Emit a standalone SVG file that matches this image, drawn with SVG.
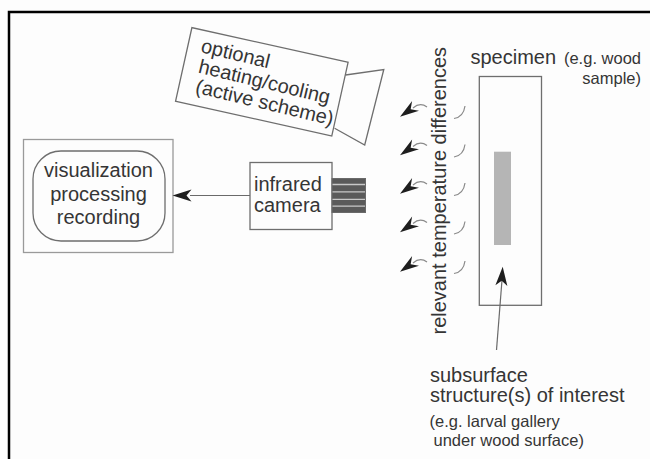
<svg xmlns="http://www.w3.org/2000/svg" width="650" height="459" viewBox="0 0 650 459">
  <style>
    .bg { fill: #fdfdfd; }
    .frame { fill: none; stroke: #000; stroke-width: 2.5; }
    .box { fill: none; stroke: #6e6e6e; stroke-width: 1.3; }
    .lbox { fill: none; stroke: #9a9a9a; stroke-width: 1.3; }
    .line { fill: none; stroke: #6a6a6a; stroke-width: 1.2; }
    .wave { fill: none; stroke: #8a8a8a; stroke-width: 1.2; }
    .head { fill: #1e1e1e; }
    text { font-family: "Liberation Sans", Arial, sans-serif; fill: #353535; }
    .t20 { font-size: 20px; }
    .t16 { font-size: 16.5px; }
  </style>
  <defs>
    <!-- dart-shaped arrowhead, tip at origin pointing along +x -->
    <path id="dart" d="M0,0 L-19,-6 L-14,0 L-19,6 Z"/>
    <path id="smalldart" d="M0,0 L-19,-6 L-13,0 L-19,6 Z"/>
  </defs>

  <rect class="bg" x="0" y="0" width="650" height="459"/>
  <path class="frame" d="M9,459 V12 H650"/>

  <!-- output unit -->
  <g id="display">
    <rect class="lbox" x="23.5" y="139.5" width="149.5" height="113"/>
    <rect class="box" x="33" y="151" width="132" height="90" rx="28" ry="28"/>
    <text class="t20" x="98.5" y="176.5" text-anchor="middle">visualization</text>
    <text class="t20" x="98.5" y="200.5" text-anchor="middle">processing</text>
    <text class="t20" x="98.5" y="223.5" text-anchor="middle">recording</text>
  </g>

  <!-- infrared camera with lens -->
  <g id="camera">
    <rect class="box" x="250" y="162.5" width="82" height="67"/>
    <rect x="332" y="178.5" width="33.5" height="34" fill="#5a5a5a" stroke="#6a6a6a" stroke-width="1"/>
    <g stroke="#c8c8c8" stroke-width="1.3">
      <line x1="332.5" y1="184.5" x2="365" y2="184.5"/>
      <line x1="332.5" y1="191.8" x2="365" y2="191.8"/>
      <line x1="332.5" y1="199.3" x2="365" y2="199.3"/>
      <line x1="332.5" y1="206.2" x2="365" y2="206.2"/>
    </g>
    <text class="t20" x="254" y="191">infrared</text>
    <text class="t20" x="254" y="211.5">camera</text>
  </g>

  <!-- heating / cooling source -->
  <g id="heater">
    <g transform="translate(191.9,27.6) rotate(12.5)">
      <rect class="box" x="0" y="0" width="160" height="75.5"/>
    </g>
    <path class="box" d="M345.5,75 L383.8,69.5 L364.7,145 L334.6,128.3"/>
    <text class="t20" transform="translate(200,52) rotate(13.5)">optional</text>
    <text class="t20" transform="translate(197.5,72.5) rotate(13.5)">heating/cooling</text>
    <text class="t20" transform="translate(194.5,92.5) rotate(13.5)">(active scheme)</text>
  </g>

  <!-- specimen with subsurface structure -->
  <g id="specimen">
    <rect class="box" x="479.3" y="76.5" width="62.2" height="228.8"/>
    <rect x="494" y="151.7" width="17" height="93.3" fill="#b5b5b5"/>
    <text class="t20" x="470.5" y="63.5">specimen</text>
    <text class="t16" x="641" y="63.5" text-anchor="end">(e.g. wood</text>
    <text class="t16" x="641" y="83.5" text-anchor="end">sample)</text>
  </g>

  <g id="emission-label">
    <text class="t20" transform="translate(445.5,334.5) rotate(-90)">relevant temperature differences</text>
  </g>

  <g id="structure-label">
    <text class="t20" x="430" y="381.5">subsurface</text>
    <text class="t20" x="430" y="401.5">structure(s) of interest</text>
    <text class="t16" x="429.5" y="426.5">(e.g. larval gallery</text>
    <text class="t16" x="433.5" y="445.5">under wood surface)</text>
  </g>

  <!-- connectors -->
  <g id="connectors">
    <line class="line" x1="250" y1="195.5" x2="190" y2="195.5"/>
    <use href="#dart" class="head" transform="translate(172.5,195.5) rotate(180)"/>

    <line class="line" x1="496.5" y1="350" x2="502" y2="280"/>
    <use href="#dart" class="head" transform="translate(502.7,266.7) rotate(-86)"/>

    <!-- radiated heat signals -->
    <g id="emissions">
      <g>
        <use href="#smalldart" class="head" transform="translate(400,116.7) rotate(145)"/>
        <path class="wave" d="M413,108 Q420,102 427,107"/>
        <path class="wave" d="M465,106 Q463.5,117 454,118.5"/>
      </g>
      <g transform="translate(0,38.5)">
        <use href="#smalldart" class="head" transform="translate(400,116.7) rotate(145)"/>
        <path class="wave" d="M413,108 Q420,102 427,107"/>
        <path class="wave" d="M465,106 Q463.5,117 454,118.5"/>
      </g>
      <g transform="translate(0,77)">
        <use href="#smalldart" class="head" transform="translate(400,116.7) rotate(145)"/>
        <path class="wave" d="M413,108 Q420,102 427,107"/>
        <path class="wave" d="M465,106 Q463.5,117 454,118.5"/>
      </g>
      <g transform="translate(0,115.5)">
        <use href="#smalldart" class="head" transform="translate(400,116.7) rotate(145)"/>
        <path class="wave" d="M413,108 Q420,102 427,107"/>
        <path class="wave" d="M465,106 Q463.5,117 454,118.5"/>
      </g>
      <g transform="translate(0,155)">
        <use href="#smalldart" class="head" transform="translate(400,116.7) rotate(145)"/>
        <path class="wave" d="M413,108 Q420,102 427,107"/>
        <path class="wave" d="M465,106 Q463.5,117 454,118.5"/>
      </g>
    </g>
  </g>
</svg>
